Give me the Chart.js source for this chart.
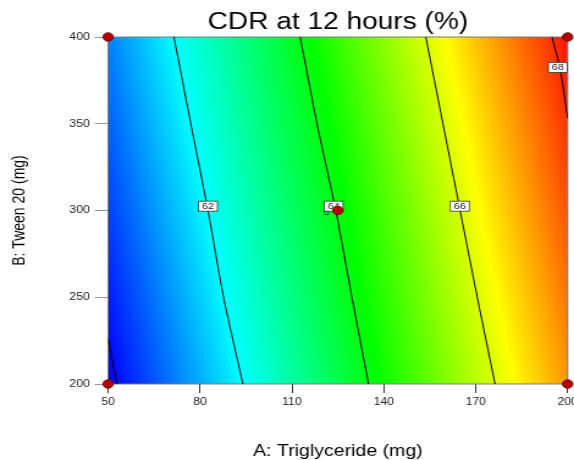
<!DOCTYPE html>
<html>
<head>
<meta charset="utf-8">
<script src="https://cdn.jsdelivr.net/npm/chart.js@4/dist/chart.umd.min.js"></script>
<style>
  html, body { margin: 0; padding: 0; background: #fff; }
  /* the reference is stretched sideways, so the canvas is drawn narrow and widened */
  #chart { width: 574px; height: 460px; }
</style>
</head>
<body>
<canvas id="chart" width="470" height="460" style="width:574px;height:460px"></canvas>
<script>
// response surface (rows = B, columns = A)
const gridA = [50, 75, 100, 125, 150, 175, 200];
const gridB = [200, 250, 300, 350, 400];
const response = [
  [59.86, 61.08, 62.30, 63.51, 64.73, 65.94, 67.15],
  [60.13, 61.35, 62.57, 63.78, 65.00, 66.21, 67.43],
  [60.42, 61.63, 62.84, 64.03, 65.24, 66.49, 67.71],
  [60.69, 61.90, 63.10, 64.30, 65.52, 66.75, 67.97],
  [60.96, 62.17, 63.35, 64.60, 65.82, 67.03, 68.25]
];

// contour lines
const contourLevels = [60, 62, 64, 66, 68];
const contourA = [
  [50, 52.9],
  [71.5, 77.0, 82.6, 87.7, 94.0],
  [112.7, 118.2, 124.3, 129.6, 135.0],
  [153.7, 159.3, 164.9, 170.5, 176.3],
  [194.9, 197.6, 200]
];
const contourB = [
  [226, 200],
  [400, 350, 300, 250, 200],
  [400, 350, 300, 250, 200],
  [400, 350, 300, 250, 200],
  [400, 381, 353]
];

// contour labels
const labelText = ['62', '64', '66', '68'];
const labelA = [82.6, 123.6, 164.8, 196.8];
const labelB = [302.5, 302.5, 302.5, 382.5];

// design points
const pointA = [50, 50, 200, 200, 125];
const pointB = [200, 400, 200, 400, 300];
const centerReps = '5';

const xTicks = [50, 80, 110, 140, 170, 200];
const yTicks = [200, 250, 300, 350, 400];

// colour ramp: blue, cyan, green, yellow, red
const rampValues = [59.9, 62.0, 64.15, 66.3, 68.4];
const rampColors = [[0, 0, 255], [0, 255, 255], [0, 255, 0], [255, 255, 0], [255, 0, 0]];

function lookup(arr, v) {
  if (v <= arr[0]) return [0, 0];
  for (let i = 0; i < arr.length - 1; i++) {
    if (v <= arr[i + 1]) return [i, (v - arr[i]) / (arr[i + 1] - arr[i])];
  }
  return [arr.length - 2, 1];
}

function valueAt(a, b) {
  const [i, fx] = lookup(gridA, a);
  const [j, fy] = lookup(gridB, b);
  const v00 = response[j][i], v10 = response[j][i + 1];
  const v01 = response[j + 1][i], v11 = response[j + 1][i + 1];
  return (v00 * (1 - fx) + v10 * fx) * (1 - fy) + (v01 * (1 - fx) + v11 * fx) * fy;
}

function colorFor(v) {
  const [k, f] = lookup(rampValues, v);
  const c0 = rampColors[k], c1 = rampColors[k + 1];
  const r = Math.round(c0[0] + (c1[0] - c0[0]) * f);
  const g = Math.round(c0[1] + (c1[1] - c0[1]) * f);
  const b = Math.round(c0[2] + (c1[2] - c0[2]) * f);
  return 'rgb(' + r + ',' + g + ',' + b + ')';
}

const colorField = {
  id: 'colorField',
  beforeDatasetsDraw(chart) {
    const ctx = chart.ctx, ca = chart.chartArea;
    const xs = chart.scales.x, ys = chart.scales.y;
    ctx.save();
    for (let px = ca.left; px < ca.right; px += 2) {
      for (let py = ca.top; py < ca.bottom; py += 2) {
        const a = xs.getValueForPixel(Math.min(px + 1, ca.right));
        const b = ys.getValueForPixel(Math.min(py + 1, ca.bottom));
        ctx.fillStyle = colorFor(valueAt(a, b));
        ctx.fillRect(px, py, Math.min(2.5, ca.right - px), Math.min(2.5, ca.bottom - py));
      }
    }
    ctx.strokeStyle = '#7a7a7a';
    ctx.lineWidth = 1;
    ctx.strokeRect(ca.left, ca.top, ca.right - ca.left, ca.bottom - ca.top);
    ctx.restore();
  },
  beforeDatasetDraw(chart, args) {
    if (chart.data.datasets[args.index].label !== 'Design points') return;
    const ctx = chart.ctx;
    const xs = chart.scales.x, ys = chart.scales.y;
    ctx.save();
    ctx.font = '9px "Liberation Sans", Arial, sans-serif';
    ctx.textAlign = 'center';
    ctx.textBaseline = 'middle';
    // replicate count next to the centre point
    ctx.fillStyle = '#203020';
    ctx.fillText(centerReps, xs.getPixelForValue(121.3), ys.getPixelForValue(298.8));
    labelText.forEach((t, i) => {
      const x = xs.getPixelForValue(labelA[i]);
      const y = ys.getPixelForValue(labelB[i]);
      const w = 15.5, h = 10;
      ctx.fillStyle = '#fff';
      ctx.fillRect(x - w / 2, y - h / 2, w, h);
      ctx.strokeStyle = '#333';
      ctx.lineWidth = 0.8;
      ctx.strokeRect(x - w / 2, y - h / 2, w, h);
      ctx.fillStyle = '#222';
      ctx.fillText(t, x, y + 0.5);
    });
    ctx.restore();
  }
};

const datasets = [{
  label: 'Design points',
  data: pointA.map((a, i) => ({ x: a, y: pointB[i] })),
  pointRadius: 4.2,
  pointBackgroundColor: '#b40000',
  pointBorderColor: '#760000',
  pointBorderWidth: 1,
  showLine: false,
  clip: false
}];
contourLevels.forEach((lvl, k) => {
  datasets.push({
    label: 'CDR ' + lvl,
    data: contourA[k].map((a, i) => ({ x: a, y: contourB[k][i] })),
    showLine: true,
    borderColor: '#000',
    borderWidth: 1,
    pointRadius: 0,
    tension: 0.3
  });
});

const tickFont = { family: '"Liberation Sans", Arial, sans-serif', size: 10 };

new Chart(document.getElementById('chart'), {
  type: 'scatter',
  data: { datasets: datasets },
  plugins: [colorField],
  options: {
    responsive: false,
    animation: false,
    layout: { padding: { left: 0, right: 4, top: 0, bottom: 0 } },
    plugins: {
      legend: { display: false },
      tooltip: { enabled: false },
      title: {
        display: true,
        fullSize: false,
        text: 'CDR at 12 hours (%)',
        color: '#000',
        font: { family: '"Liberation Sans", Arial, sans-serif', size: 23, weight: 'normal' },
        padding: { top: 9, bottom: 0.4 }
      }
    },
    scales: {
      x: {
        type: 'linear',
        min: 50,
        max: 200,
        afterBuildTicks: s => { s.ticks = xTicks.map(v => ({ value: v })); },
        afterFit: s => { s.height = 76; s.paddingLeft = 0; s.paddingRight = 0; },
        ticks: { font: tickFont, color: '#222', padding: 3, maxRotation: 0, autoSkip: false },
        grid: { drawOnChartArea: false, tickLength: 9, tickColor: '#333' },
        border: { display: false },
        title: {
          display: true,
          text: 'A: Triglyceride (mg)',
          color: '#000',
          font: { family: '"Liberation Sans", Arial, sans-serif', size: 16, lineHeight: 1 },
          padding: { top: 0, bottom: 0 }
        }
      },
      y: {
        type: 'linear',
        min: 200,
        max: 400,
        afterBuildTicks: s => { s.ticks = yTicks.map(v => ({ value: v })); },
        afterFit: s => { s.width = 88.5; s.paddingTop = 0; s.paddingBottom = 0; },
        ticks: { font: tickFont, color: '#222', padding: 4, autoSkip: false },
        grid: { drawOnChartArea: false, tickLength: 11, tickColor: '#999' },
        border: { display: false },
        title: {
          display: true,
          text: 'B: Tween 20 (mg)',
          color: '#000',
          font: { family: '"Liberation Sans", Arial, sans-serif', size: 14 },
          padding: { top: 8, bottom: 0 }
        }
      }
    }
  }
});
</script>
</body>
</html>
